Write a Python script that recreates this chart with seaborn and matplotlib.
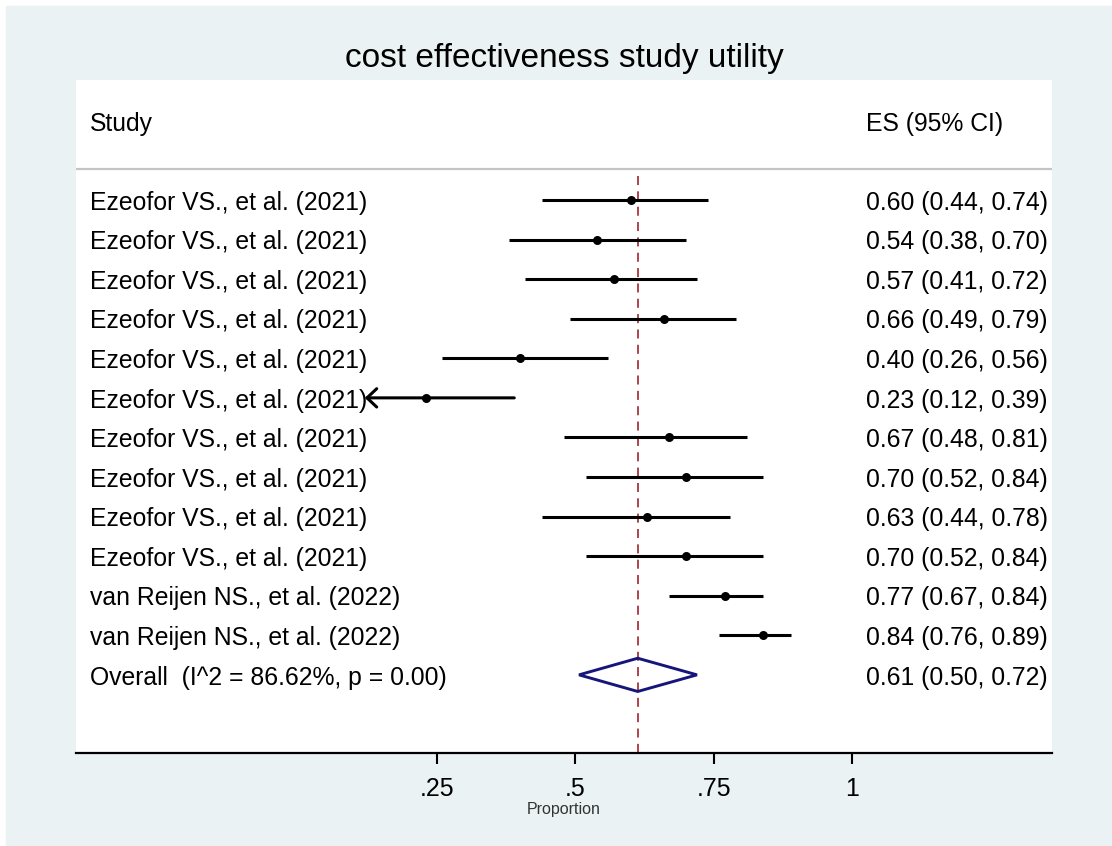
import numpy as np
import pandas as pd
import matplotlib
matplotlib.use("Agg")
import matplotlib.pyplot as plt
import seaborn as sns

# ── Data ───────────────────────────────────────────────────
studies = ["Ezeofor VS., et al. (2021)"] * 10 + ["van Reijen NS., et al. (2022)"] * 2
es = [0.60, 0.54, 0.57, 0.66, 0.40, 0.23, 0.67, 0.70, 0.63, 0.70, 0.77, 0.84]
ci_low = [0.44, 0.38, 0.41, 0.49, 0.26, 0.12, 0.48, 0.52, 0.44, 0.52, 0.67, 0.76]
ci_high = [0.74, 0.70, 0.72, 0.79, 0.56, 0.39, 0.81, 0.84, 0.78, 0.84, 0.84, 0.89]
es_labels = ["0.60 (0.44, 0.74)", "0.54 (0.38, 0.70)", "0.57 (0.41, 0.72)",
             "0.66 (0.49, 0.79)", "0.40 (0.26, 0.56)", "0.23 (0.12, 0.39)",
             "0.67 (0.48, 0.81)", "0.70 (0.52, 0.84)", "0.63 (0.44, 0.78)",
             "0.70 (0.52, 0.84)", "0.77 (0.67, 0.84)", "0.84 (0.76, 0.89)"]
overall_es = 0.613
overall_low = 0.507
overall_high = 0.72
overall_text = "Overall  (I^2 = 86.62%, p = 0.00)"
overall_label = "0.61 (0.50, 0.72)"
arrow_rows = [5]          # CI truncated at left -> drawn as arrow
xticks = [0.25, 0.5, 0.75, 1.0]
xtick_labels = [".25", ".5", ".75", "1"]

BG = "#EAF2F3"
NAVY = "#16167A"
RED = "#A8353F"

sns.set_theme(style="white")
plt.rcParams["font.family"] = ["Liberation Sans", "DejaVu Sans"]
plt.rcParams["text.color"] = "black"
plt.rcParams["xtick.color"] = "black"

fig = plt.figure(figsize=(11.12, 8.46), dpi=100, facecolor="white")
# Stata-like outer background panel
fig.patches.append(plt.Rectangle((6 / 1112, 0), 1, 1 - 6 / 846,
                                 transform=fig.transFigure, color=BG, zorder=-10))
ax = fig.add_axes([76 / 1112, 1 - 753 / 846, 976 / 1112, 673 / 846])
ax.set_facecolor("white")

df = pd.DataFrame({"row": np.arange(len(es)), "es": es,
                   "lo": ci_low, "hi": ci_high})
n = len(df)

# CI lines
for r in df.itertuples():
    if r.row in arrow_rows:
        ax.annotate("", xy=(r.lo, r.row), xytext=(r.hi, r.row),
                    arrowprops=dict(arrowstyle="->,head_length=0.35,head_width=0.33",
                                    lw=2.2, color="black", shrinkA=0, shrinkB=0,
                                    mutation_scale=20))
    else:
        ax.plot([r.lo, r.hi], [r.row, r.row], color="black", lw=2.2,
                solid_capstyle="butt", zorder=3)

sns.scatterplot(data=df, x="es", y="row", ax=ax, color="black", s=42,
                edgecolor="black", linewidth=0, zorder=4, legend=False)

# overall diamond
yo = n
ax.fill([overall_low, overall_es, overall_high, overall_es, overall_low],
        [yo, yo - 0.42, yo, yo + 0.42, yo], facecolor="none",
        edgecolor=NAVY, lw=2.1, zorder=4)

# reference line at overall estimate
ax.plot([overall_es, overall_es], [-0.6, 14], color=RED, lw=1.3,
        dashes=(5, 3.5), zorder=2)

# header and separator
ax.plot([-1, 2], [-0.78, -0.78], color="#C4C4C4", lw=1.6, zorder=2)
xl, xr = -0.376, 1.025
fs = 17.8
dy = 0.07
ax.text(xl, -2 + dy, "Study", fontsize=fs, va="center", ha="left")
ax.text(xr, -2 + dy, "ES (95% CI)", fontsize=fs, va="center", ha="left")
for i, (s, lab) in enumerate(zip(studies, es_labels)):
    ax.text(xl, i + dy, s, fontsize=fs, va="center", ha="left")
    ax.text(xr, i + dy, lab, fontsize=fs, va="center", ha="left")
ax.text(xl, yo + dy, overall_text, fontsize=fs, va="center", ha="left")
ax.text(xr, yo + dy, overall_label, fontsize=fs, va="center", ha="left")

ax.set_xlim(-0.4015, 1.3612)
ax.set_ylim(13.975, -3.033)
ax.set_yticks([])
ax.set_xticks(xticks)
ax.set_xticklabels(xtick_labels, fontsize=18)
ax.tick_params(axis="x", bottom=True, length=8, width=1.5, pad=9, color="black")
for side in ["top", "left", "right"]:
    ax.spines[side].set_visible(False)
ax.spines["bottom"].set_color("black")
ax.spines["bottom"].set_linewidth(1.6)
ax.set_xlabel("Proportion", fontsize=11.5, labelpad=1, color="#333333")
ax.set_ylabel("")

fig.text(564 / 1112, 1 - 59 / 846, "cost effectiveness study utility",
         fontsize=24, ha="center", va="center")

fig.savefig("out.png", dpi=100, facecolor=fig.get_facecolor())
